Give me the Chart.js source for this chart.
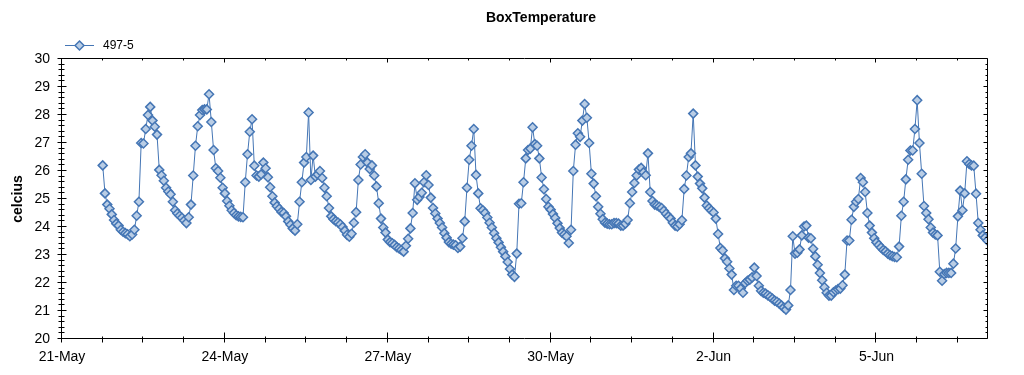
<!DOCTYPE html>
<html>
<head>
<meta charset="utf-8">
<title>BoxTemperature</title>
<script src="https://cdn.jsdelivr.net/npm/chart.js@4.4.0/dist/chart.umd.min.js"></script>
<style>
  html, body { margin: 0; padding: 0; background: #fff; }
</style>
</head>
<body>
<canvas id="chart" width="1024" height="375"></canvas>
<script>
// hourly readings, series "497-5", first reading 21-May 18:00
const firstHour = 18;
const may21 = [26.2, 25.2, 24.8, 24.65, 24.45, 24.25];
const may22 = [24.12, 24.05, 23.9, 23.83, 23.78, 23.74, 23.67, 23.73, 23.9, 24.4, 24.9, 27.0, 26.98, 27.5, 28.0, 28.29, 27.8, 27.58, 27.3, 26.04, 25.85, 25.65, 25.4, 25.27];
const may23 = [25.17, 24.9, 24.6, 24.48, 24.4, 24.33, 24.23, 24.14, 24.35, 24.8, 25.84, 26.9, 27.6, 28.0, 28.18, 28.2, 28.2, 28.74, 27.75, 26.75, 26.1, 26.0, 25.76, 25.4];
const may24 = [25.2, 24.93, 24.76, 24.6, 24.5, 24.42, 24.38, 24.36, 24.35, 25.6, 26.6, 27.4, 27.85, 26.19, 25.84, 25.8, 25.88, 26.3, 26.1, 25.78, 25.42, 25.1, 24.87, 24.74];
const may25 = [24.65, 24.54, 24.5, 24.38, 24.2, 24.08, 23.95, 23.87, 24.1, 24.9, 25.6, 26.3, 26.5, 28.09, 25.68, 26.55, 25.8, 25.88, 26.0, 25.75, 25.4, 25.1, 24.68, 24.38];
const may26 = [24.28, 24.21, 24.16, 24.1, 24.0, 23.87, 23.72, 23.65, 23.76, 24.15, 24.53, 25.68, 26.23, 26.5, 26.6, 26.3, 26.07, 26.2, 25.84, 25.45, 24.85, 24.3, 23.98, 23.8];
const may27 = [23.55, 23.46, 23.42, 23.36, 23.28, 23.23, 23.18, 23.12, 23.33, 23.58, 23.95, 24.5, 25.56, 24.97, 25.07, 25.22, 25.6, 25.85, 25.5, 25.05, 24.68, 24.48, 24.3, 24.14];
const may28 = [23.98, 23.78, 23.62, 23.46, 23.4, 23.37, 23.35, 23.25, 23.3, 23.6, 24.2, 25.4, 26.4, 26.9, 27.5, 25.86, 25.2, 24.67, 24.6, 24.5, 24.34, 24.15, 23.98, 23.78];
const may29 = [23.6, 23.45, 23.28, 23.12, 22.95, 22.75, 22.5, 22.3, 22.22, 23.05, 24.83, 24.85, 25.6, 26.45, 26.75, 26.8, 27.56, 26.96, 26.9, 26.45, 25.77, 25.35, 25.0, 24.72];
const may30 = [24.62, 24.46, 24.32, 24.13, 23.96, 23.8, 23.73, 23.67, 23.43, 23.9, 26.0, 26.94, 27.35, 27.22, 27.8, 28.39, 27.9, 27.0, 25.9, 25.55, 25.1, 24.72, 24.47, 24.28];
const may31 = [24.15, 24.12, 24.1, 24.1, 24.14, 24.14, 24.12, 24.05, 24.05, 24.12, 24.25, 24.85, 25.25, 25.57, 25.84, 26.05, 26.11, 25.95, 25.85, 26.63, 25.25, 24.93, 24.8, 24.77];
const jun1 = [24.72, 24.68, 24.58, 24.47, 24.38, 24.3, 24.15, 24.05, 24.02, 24.1, 24.24, 25.36, 25.84, 26.5, 26.63, 28.05, 26.2, 25.8, 25.55, 25.38, 25.05, 24.77, 24.67, 24.59];
const jun2 = [24.52, 24.3, 23.75, 23.25, 23.16, 22.88, 22.76, 22.52, 22.3, 21.75, 21.9, 21.9, 21.8, 21.65, 22.0, 22.08, 22.12, 22.2, 22.55, 22.25, 21.9, 21.72, 21.65, 21.62];
const jun3 = [21.56, 21.51, 21.44, 21.37, 21.33, 21.27, 21.2, 21.12, 21.05, 21.2, 21.75, 23.67, 23.05, 23.08, 23.2, 23.7, 24.02, 24.05, 23.62, 23.6, 23.22, 22.95, 22.65, 22.36];
const jun4 = [22.1, 21.85, 21.65, 21.55, 21.55, 21.67, 21.73, 21.78, 21.8, 21.92, 22.3, 23.52, 23.52, 24.26, 24.72, 24.9, 25.0, 25.75, 25.6, 25.25, 24.5, 24.05, 23.8, 23.6];
const jun5 = [23.45, 23.36, 23.27, 23.18, 23.13, 23.05, 22.99, 22.96, 22.93, 22.92, 23.3, 24.4, 24.9, 25.7, 26.4, 26.73, 26.73, 27.5, 28.53, 27.0, 25.9, 24.75, 24.5, 24.28];
const jun6 = [23.98, 23.8, 23.73, 23.7, 22.4, 22.08, 22.32, 22.36, 22.36, 22.36, 22.69, 23.23, 24.38, 25.3, 24.6, 25.2, 26.35, 26.25, 26.2, 26.19, 25.19, 24.14, 23.9, 23.7];
const jun7 = [23.62, 23.52];

const tickLabels = ["21-May", "24-May", "27-May", "30-May", "2-Jun", "5-Jun"];
const lastHour = 409.3; // right edge of the plot, 7-Jun ~01:20

const temps = [].concat(may21, may22, may23, may24, may25, may26, may27, may28, may29,
  may30, may31, jun1, jun2, jun3, jun4, jun5, jun6, jun7);
const points = temps.map((v, i) => ({ x: firstHour + i, y: v }));

Chart.defaults.font.family = '"Liberation Sans", Arial, sans-serif';
Chart.defaults.color = "#000";

const lineColor = "#4576b5";
const fillColor = "#b9cde5";

// frame, tick marks, title and legend
const framePlugin = {
  id: "frame",
  afterDraw(chart) {
    const ctx = chart.ctx;
    const a = chart.chartArea;
    const x = chart.scales.x, y = chart.scales.y;
    const L = Math.round(a.left) - 0.5, R = Math.round(a.right) - 0.5;
    const T = Math.round(a.top) - 0.5, B = Math.round(a.bottom) - 0.5;
    ctx.save();
    ctx.strokeStyle = "#000";
    ctx.lineWidth = 1;
    ctx.beginPath();
    ctx.rect(L, T, R - L, B - T);

    y.ticks.forEach(t => {
      const p = Math.round(y.getPixelForValue(t.value)) - 0.5;
      const major = Math.abs(t.value - Math.round(t.value)) < 1e-6;
      ctx.moveTo(L - (major ? 4 : 3), p); ctx.lineTo(L + (major ? 5 : 3), p);
      ctx.moveTo(R - (major ? 4 : 2), p); ctx.lineTo(R, p);
    });
    x.ticks.forEach(t => {
      const p = Math.round(x.getPixelForValue(t.value)) - 0.5;
      const major = t.value % 72 === 0;
      ctx.moveTo(p, B - (major ? 6 : 2)); ctx.lineTo(p, B + 4);
      ctx.moveTo(p, T); ctx.lineTo(p, T + (major ? 4 : 2));
    });
    ctx.stroke();

    // title
    ctx.fillStyle = "#000";
    ctx.font = 'bold 14px "Liberation Sans", Arial, sans-serif';
    ctx.textAlign = "center";
    ctx.textBaseline = "middle";
    ctx.fillText("BoxTemperature", 541, 18);

    // legend
    ctx.strokeStyle = lineColor;
    ctx.beginPath();
    ctx.moveTo(65, 45.5); ctx.lineTo(94, 45.5);
    ctx.stroke();
    ctx.fillStyle = fillColor;
    ctx.lineWidth = 1.5;
    ctx.beginPath();
    ctx.moveTo(79.5, 41); ctx.lineTo(84, 45.5); ctx.lineTo(79.5, 50); ctx.lineTo(75, 45.5);
    ctx.closePath();
    ctx.fill();
    ctx.stroke();
    ctx.fillStyle = "#000";
    ctx.font = '12px "Liberation Sans", Arial, sans-serif';
    ctx.textAlign = "left";
    ctx.fillText("497-5", 103, 46);
    ctx.restore();
  }
};

new Chart(document.getElementById("chart"), {
  type: "line",
  data: {
    datasets: [{
      label: "497-5",
      data: points,
      borderColor: lineColor,
      borderWidth: 1,
      backgroundColor: fillColor,
      pointStyle: "rectRot",
      pointRadius: 4.5,
      pointBorderWidth: 1.5,
      pointBackgroundColor: fillColor,
      pointBorderColor: lineColor,
      tension: 0
    }]
  },
  options: {
    responsive: false,
    animation: false,
    layout: { padding: { top: 59, right: 36, left: 0, bottom: 0 } },
    plugins: {
      legend: { display: false },
      title: { display: false },
      tooltip: { enabled: false }
    },
    scales: {
      x: {
        type: "linear",
        min: 0,
        max: lastHour,
        grid: { display: false, drawTicks: false },
        border: { display: false },
        afterFit: s => { s.height = 36; },
        ticks: {
          stepSize: 18,
          includeBounds: false,
          autoSkip: false,
          maxRotation: 0,
          padding: 10,
          font: { size: 14 },
          callback: v => (v % 72 === 0 ? tickLabels[v / 72] : "")
        }
      },
      y: {
        min: 20,
        max: 30,
        grid: { display: false, drawTicks: false },
        border: { display: false },
        afterFit: s => { s.width = 62; },
        title: {
          display: true,
          text: "celcius",
          font: { size: 14, weight: "bold" },
          padding: { top: 10, bottom: 0 }
        },
        ticks: {
          stepSize: 0.2,
          autoSkip: false,
          padding: 12,
          font: { size: 14 },
          callback: v => (Math.abs(v - Math.round(v)) < 1e-6 ? String(Math.round(v)) : "")
        }
      }
    }
  },
  plugins: [framePlugin]
});
</script>
</body>
</html>
